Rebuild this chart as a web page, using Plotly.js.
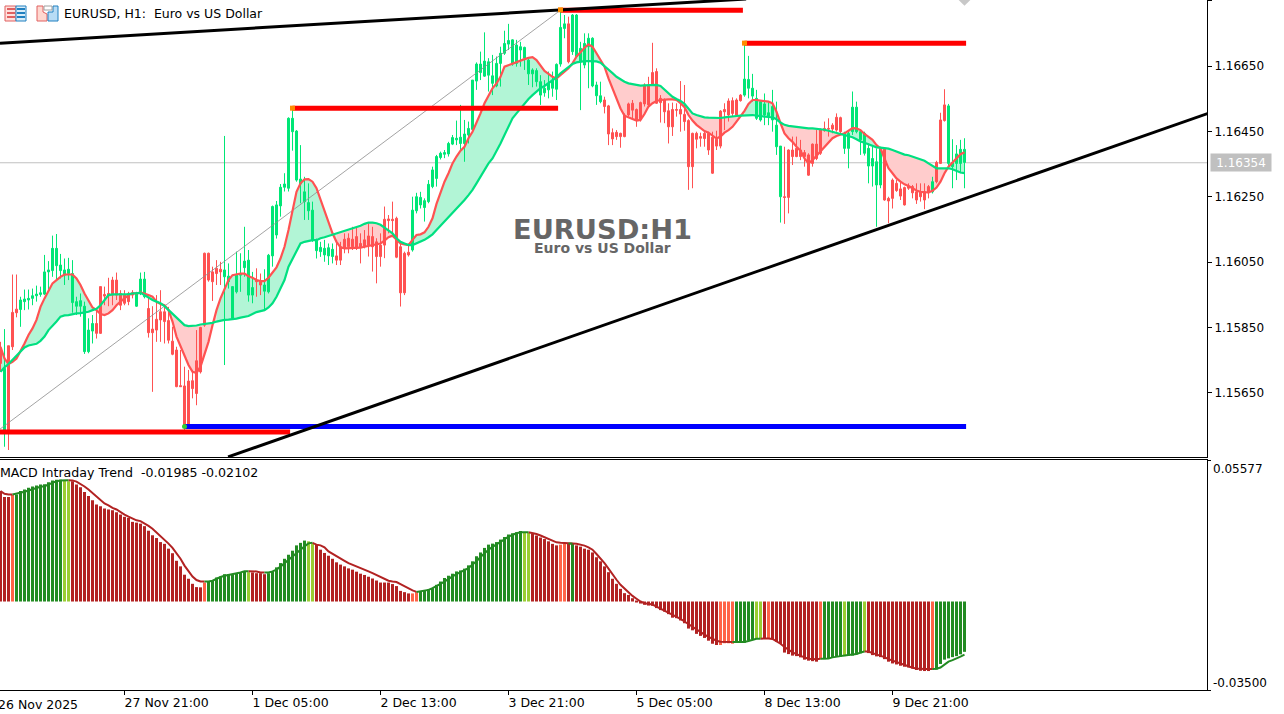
<!DOCTYPE html>
<html><head><meta charset="utf-8">
<script src="https://cdn.plot.ly/plotly-3.0.1.min.js"></script>
<style>html,body{margin:0;padding:0;background:#fff;overflow:hidden}#c{width:1284px;height:714px}</style>
</head><body><div id="c"></div>
<script>
// Prices are in points above 1.15000 (1 point = 0.00001)
const open=[781,536,794,896,906,905,929,934,939,947,951,952,1020,1024,1039,1024,1010,1015,926,915,915,776,776,839,862,975,951,954,995,995,954,949,954,956,915,954,944,908,845,875,898,898,871,808,781,672,671,686,687,748,850,1077,1077,1020,1031,1028,1005,990,878,959,1010,1033,949,949,995,990,961,959,1069,1133,1222,1279,1276,1449,1301,1289,1235,1207,1117,1085,1082,1072,1069,1067,1069,1097,1120,1123,1120,1128,1107,1118,1130,1128,1112,1102,1181,1182,1181,1184,1097,1077,1080,1087,1207,1225,1217,1235,1281,1306,1370,1380,1381,1411,1424,1413,1413,1439,1456,1604,1630,1619,1622,1597,1589,1658,1689,1717,1656,1658,1699,1674,1626,1626,1602,1561,1568,1577,1582,1579,1656,1765,1779,1694,1679,1663,1653,1709,1589,1559,1541,1546,1528,1446,1447,1444,1500,1534,1536,1517,1538,1592,1592,1630,1633,1551,1546,1513,1517,1517,1517,1502,1483,1444,1444,1434,1444,1444,1432,1426,1512,1517,1543,1544,1546,1561,1561,1582,1558,1490,1485,1500,1495,1485,1403,1250,1250,1393,1393,1398,1393,1385,1378,1411,1411,1456,1459,1459,1469,1493,1492,1398,1398,1449,1449,1424,1383,1344,1344,1286,1286,1396,1245,1301,1291,1274,1278,1283,1281,1265,1265,1265,1281,1265,1355,1485,1531,1352,1342,1352,1352,1355];
const high=[806,845,794,1012,1012,944,966,966,969,978,975,1072,1053,1131,1136,1075,1061,1063,1056,944,954,929,878,888,903,975,975,1002,1005,1018,964,964,959,964,959,1018,1020,944,915,949,964,913,913,852,791,781,730,720,720,842,852,1079,1079,1036,1056,1051,1436,1046,975,1082,1077,1158,1087,1020,1031,1015,1028,1075,1223,1237,1289,1322,1493,1515,1454,1408,1311,1291,1235,1122,1112,1118,1107,1107,1109,1112,1138,1138,1158,1158,1138,1148,1169,1158,1123,1138,1220,1194,1235,1189,1112,1082,1107,1250,1262,1265,1245,1301,1342,1378,1388,1393,1418,1439,1483,1531,1485,1480,1607,1661,1694,1753,1674,1684,1679,1709,1758,1779,1732,1730,1724,1709,1674,1643,1643,1622,1607,1633,1633,1658,1821,1806,1801,1809,1809,1724,1750,1750,1738,1602,1602,1556,1531,1459,1454,1446,1505,1538,1546,1520,1541,1597,1617,1721,1643,1561,1551,1536,1538,1536,1604,1592,1487,1446,1449,1446,1449,1449,1449,1452,1515,1536,1551,1554,1551,1564,1719,1681,1626,1577,1546,1566,1541,1577,1541,1405,1403,1395,1434,1434,1424,1393,1383,1413,1454,1459,1480,1490,1475,1505,1495,1449,1449,1572,1541,1454,1449,1413,1403,1398,1403,1398,1250,1306,1301,1296,1281,1291,1286,1291,1291,1291,1286,1311,1360,1507,1579,1534,1426,1408,1424,1429];
const low=[714,485,475,781,881,852,903,905,918,929,944,949,966,1005,995,1000,980,995,895,888,883,769,771,801,816,830,918,915,918,934,903,918,918,939,913,949,939,819,653,806,806,801,801,765,667,669,536,541,633,612,709,852,990,931,980,980,735,969,873,954,959,1005,929,924,944,949,903,954,1036,1122,1189,1266,1266,1391,1296,1230,1179,1179,1112,1061,1066,1051,1041,1046,1041,1041,1077,1077,1087,1087,1046,1092,1067,1021,985,1036,1062,1138,1128,1062,914,949,1067,1082,1199,1214,1174,1230,1276,1281,1364,1368,1373,1408,1408,1393,1357,1413,1452,1577,1607,1617,1572,1561,1585,1587,1684,1699,1651,1648,1648,1638,1592,1585,1587,1531,1556,1551,1556,1546,1648,1735,1658,1684,1674,1515,1643,1582,1585,1531,1536,1505,1408,1408,1424,1400,1432,1495,1485,1464,1480,1526,1526,1592,1534,1477,1475,1413,1436,1495,1449,1452,1271,1276,1398,1403,1403,1378,1320,1393,1398,1454,1480,1495,1495,1541,1556,1551,1541,1485,1480,1469,1469,1449,1378,1171,1167,1199,1347,1371,1362,1342,1314,1342,1362,1378,1449,1434,1444,1449,1444,1381,1337,1439,1444,1378,1376,1291,1281,1158,1276,1238,1169,1214,1265,1240,1223,1271,1245,1228,1235,1212,1245,1260,1291,1350,1480,1337,1276,1301,1322,1276];
const close=[740,725,536,791,895,934,937,939,947,952,956,1020,1026,1092,1092,1041,1026,1028,1015,929,932,915,842,862,832,832,946,947,949,949,918,924,929,949,954,998,998,834,834,842,873,868,811,768,669,669,546,546,663,648,714,857,995,990,1015,1020,1026,1007,975,1010,1015,1053,1056,972,990,980,980,1071,1220,1225,1279,1289,1490,1490,1451,1304,1265,1232,1209,1117,1095,1092,1094,1089,1056,1056,1092,1097,1097,1092,1097,1097,1102,1097,1067,1067,1102,1177,1177,1065,956,956,1072,1209,1250,1248,1238,1288,1332,1373,1383,1385,1413,1431,1429,1432,1442,1459,1607,1656,1656,1665,1663,1620,1658,1689,1719,1728,1730,1714,1709,1707,1668,1638,1636,1602,1582,1597,1607,1655,1768,1779,1663,1806,1806,1704,1719,1735,1735,1592,1559,1526,1442,1427,1434,1434,1434,1500,1515,1485,1487,1534,1531,1595,1536,1538,1510,1464,1464,1515,1503,1480,1342,1342,1426,1429,1428,1393,1322,1405,1405,1510,1500,1505,1500,1544,1610,1609,1582,1551,1541,1534,1507,1526,1469,1405,1248,1248,1373,1373,1373,1373,1316,1352,1367,1383,1452,1457,1457,1454,1449,1444,1444,1524,1524,1449,1444,1398,1367,1357,1398,1240,1237,1245,1269,1252,1225,1276,1262,1240,1250,1240,1262,1296,1296,1352,1483,1528,1355,1381,1395,1395];
const fastMA=[791,755,738,745,755,776,801,827,847,873,913,939,964,985,995,1005,1012,1013,1012,1000,980,954,934,911,903,891,888,893,903,918,929,939,949,954,954,957,954,949,944,929,922,918,903,868,822,791,760,735,714,711,730,765,806,857,903,939,970,995,1010,1013,1015,1015,1007,1002,995,992,992,1002,1020,1034,1061,1097,1148,1209,1265,1291,1303,1304,1296,1276,1240,1204,1169,1138,1112,1095,1092,1092,1092,1092,1094,1097,1099,1102,1104,1107,1116,1126,1131,1120,1107,1104,1102,1118,1133,1135,1141,1158,1184,1228,1265,1296,1322,1352,1373,1391,1403,1429,1449,1475,1505,1536,1561,1582,1597,1617,1648,1653,1658,1663,1668,1671,1675,1677,1668,1653,1635,1626,1617,1612,1622,1633,1643,1658,1679,1692,1706,1716,1709,1689,1670,1648,1612,1582,1551,1520,1498,1492,1488,1483,1485,1503,1526,1536,1543,1546,1548,1548,1548,1546,1536,1524,1500,1483,1470,1459,1451,1446,1436,1428,1434,1446,1454,1464,1480,1495,1513,1534,1546,1546,1544,1543,1541,1536,1510,1475,1444,1429,1418,1403,1391,1367,1352,1362,1375,1388,1403,1415,1429,1436,1441,1444,1452,1460,1459,1454,1442,1432,1424,1408,1398,1367,1337,1322,1306,1296,1288,1283,1276,1269,1265,1263,1263,1268,1278,1296,1322,1342,1355,1367,1380,1386];
const slowMA=[714,728,738,750,762,776,789,795,797,800,809,822,842,854,868,883,887,888,891,893,894,896,898,903,907,918,934,949,951,951,951,952,952,954,955,956,949,941,934,929,924,915,903,893,881,868,857,854,854,856,859,860,862,864,868,871,873,874,875,877,880,882,885,891,897,900,903,911,924,944,970,995,1036,1061,1087,1107,1112,1115,1117,1117,1123,1126,1130,1133,1136,1140,1144,1148,1153,1158,1161,1167,1171,1171,1169,1164,1156,1148,1138,1123,1112,1107,1102,1102,1107,1112,1118,1126,1135,1148,1161,1174,1187,1199,1211,1225,1240,1255,1271,1291,1311,1332,1352,1367,1388,1413,1439,1464,1490,1505,1520,1536,1549,1561,1572,1582,1589,1597,1607,1615,1628,1638,1648,1656,1661,1664,1665,1665,1665,1664,1660,1650,1638,1628,1617,1609,1602,1597,1594,1591,1590,1591,1592,1592,1592,1589,1577,1566,1556,1549,1543,1534,1520,1505,1500,1496,1493,1492,1491,1490,1491,1493,1495,1496,1497,1498,1499,1500,1500,1498,1496,1495,1494,1493,1487,1477,1470,1467,1465,1464,1462,1460,1459,1459,1458,1457,1455,1452,1449,1446,1442,1439,1436,1432,1426,1419,1415,1410,1405,1401,1400,1399,1397,1393,1388,1383,1379,1377,1373,1367,1364,1360,1352,1344,1337,1337,1337,1337,1334,1328,1324,1322];
// MACD pane values in units of 0.0001
const macdHist=[437,413,413,421,423,437,443,450,455,459,463,464,472,479,482,482,479,476,476,463,452,433,417,400,384,377,368,364,361,353,344,335,331,315,312,308,298,280,262,251,235,228,209,191,161,139,106,90,70,57,56,75,79,85,95,99,108,108,108,112,115,119,116,115,112,112,108,112,119,135,152,169,185,201,222,232,241,238,228,225,205,192,181,169,155,146,139,131,126,118,110,105,98,91,83,75,75,75,69,61,42,37,32,32,37,40,45,49,53,66,79,93,102,110,119,123,130,143,159,179,194,212,225,229,235,245,255,265,270,274,279,275,271,267,261,253,247,238,228,222,225,229,228,229,222,217,209,205,194,175,159,139,116,90,70,50,33,26,13,3,-8,-13,-16,-17,-26,-34,-40,-50,-64,-66,-75,-86,-107,-114,-128,-136,-144,-155,-167,-172,-172,-165,-165,-167,-163,-163,-163,-155,-149,-147,-146,-148,-148,-149,-159,-168,-202,-208,-214,-216,-221,-230,-234,-236,-238,-228,-228,-225,-222,-218,-218,-216,-214,-214,-209,-205,-198,-204,-212,-217,-220,-228,-238,-245,-249,-254,-258,-261,-265,-271,-274,-275,-275,-271,-269,-247,-230,-225,-220,-216,-209,-199];
const macdSignal=[437,426,423,423,426,429,434,439,445,450,454,456,463,471,476,479,480,480,479,474,466,455,443,429,413,400,388,380,370,364,353,344,336,329,321,318,310,299,288,274,258,243,229,212,192,169,142,119,99,85,79,79,79,82,91,97,102,105,107,111,115,120,120,119,119,115,115,115,119,126,138,152,165,179,192,205,218,230,232,225,222,214,198,188,179,168,161,152,146,139,132,126,119,112,105,97,89,82,79,77,69,60,50,44,38,40,42,46,53,60,70,79,90,99,108,116,123,132,146,159,176,191,205,216,225,235,246,257,265,270,274,275,274,271,267,261,254,247,238,234,232,230,229,229,228,225,221,214,205,188,172,152,130,106,86,66,50,36,22,11,0,-7,-11,-12,-20,-28,-34,-44,-53,-61,-69,-79,-90,-101,-111,-122,-131,-140,-148,-155,-159,-160,-160,-160,-160,-160,-160,-156,-152,-147,-147,-146,-146,-148,-156,-167,-180,-192,-201,-208,-216,-221,-226,-228,-228,-226,-226,-225,-221,-217,-216,-214,-212,-210,-208,-202,-198,-198,-204,-209,-213,-220,-228,-234,-241,-247,-253,-258,-262,-265,-267,-267,-267,-267,-266,-261,-249,-238,-232,-226,-218,-210];
const macdStates=[['R',3],['T',1],['G',12],['Y',2],['R',33],['T',1],['G',10],['Y',1],['R',4],['G',10],['Y',2],['R',24],['T',2],['G',26],['Y',2],['R',7],['T',2],['R',1],['G',1],['R',36],['T',4],['G',5],['Y',2],['R',1],['T',1],['R',12],['T',1],['G',5],['Y',1],['G',4],['Y',1],['R',16],['T',1],['G',8]];
const priceTicks=[1.1565,1.1585,1.1605,1.1625,1.1645,1.1665,1.1685];
const priceTickText=['1.15650','1.15850','1.16050','1.16250','1.16450','1.16650','1.16850'];
const macdTicks=[0.05577,-0.035];
const timeTicks=[31,63,95,127,159,191,223];
const timeTickText=['27 Nov 21:00','1 Dec 05:00','2 Dec 13:00','3 Dec 21:00','5 Dec 05:00','8 Dec 13:00','9 Dec 21:00'];
const firstTimeLabel='26 Nov 2025';
const lastPrice=1.16354;
// Drawn objects: [start bar, start points, end bar, end points]
const upperTrend=[-0.125,1720,186.4,1855];
const lowerTrend=[56.9,454,301.875,1505];
const zigzag=[-0.125,539,140,1821];
const redLevels=[[-0.125,72.4,530],[73,139.4,1521],[140,185.6,1821],[186,241.4,1720]];
const blueLevel=[46,241.4,547];
const pivotMarks=[[73,1521,'#FF8C00','square'],[186,1720,'#FF8C00','square'],[140,1822,'#FF8C00','square'],[46,547,'#32CD32','circle']];

const FONT='"DejaVu Sans"';
const PW=1207,PH=690;
const pr=a=>a.map(v=>1.15+v/1e5);
const one=v=>1.15+v/1e5;
const bars=open.map((_,i)=>i);
const macdCode={R:'#B22222',T:'#FF6347',G:'#228B22',Y:'#9ACD32'};
const states=[];macdStates.forEach(([s,n])=>{for(let k=0;k<n;k++)states.push(s)});
const isUp=i=>states[i]==='G'||states[i]==='Y';
const traces=[];
traces.push({type:'candlestick',x:bars,open:pr(open),high:pr(high),low:pr(low),close:pr(close),whiskerwidth:0,
  increasing:{line:{color:'#00E676',width:1},fillcolor:'#00E676'},
  decreasing:{line:{color:'#FF5252',width:1},fillcolor:'#FF5252'},hoverinfo:'skip',xaxis:'x',yaxis:'y'});
const seg=(a,color,width)=>({type:'scatter',mode:'lines',x:[a[0],a[2]],y:[one(a[1]),one(a[3])],line:{color,width},hoverinfo:'skip',xaxis:'x',yaxis:'y'});
traces.push(seg(zigzag,'#8C8C8C',0.8));
traces.push({type:'scatter',mode:'lines',x:bars,y:pr(fastMA),line:{color:'#FF5252',width:2.2},hoverinfo:'skip',xaxis:'x',yaxis:'y'});
traces.push({type:'scatter',mode:'lines',x:bars,y:pr(slowMA),line:{color:'#00E081',width:2.2},hoverinfo:'skip',xaxis:'x',yaxis:'y'});
redLevels.forEach(l=>traces.push(seg([l[0],l[2],l[1],l[2]],'#FF0000',5)));
traces.push(seg([blueLevel[0],blueLevel[2],blueLevel[1],blueLevel[2]],'#0000FF',5));
traces.push(seg(upperTrend,'#000000',3));
traces.push(seg(lowerTrend,'#000000',3));
pivotMarks.forEach(p=>traces.push({type:'scatter',mode:'markers',x:[p[0]],y:[one(p[1])],marker:{color:p[2],symbol:p[3],size:5},hoverinfo:'skip',xaxis:'x',yaxis:'y'}));
traces.push({type:'scatter',mode:'markers',x:[241],y:[one(1852)],marker:{color:'#C8C8C8',symbol:'diamond',size:9},hoverinfo:'skip',xaxis:'x',yaxis:'y'});
// MACD pane
traces.push({type:'bar',x:bars,y:macdHist.map(v=>v/1e4),width:0.75,marker:{color:states.map(s=>macdCode[s]),line:{width:0}},hoverinfo:'skip',xaxis:'x',yaxis:'y2'});
const part=(test)=>macdSignal.map((v,i)=>(test(i)||(i+1<states.length&&test(i+1)))?v/1e4:null);
traces.push({type:'scatter',mode:'lines',x:bars,y:part(i=>!isUp(i)),line:{color:'#B22222',width:2},hoverinfo:'skip',xaxis:'x',yaxis:'y2'});
traces.push({type:'scatter',mode:'lines',x:bars,y:part(isUp),line:{color:'#228B22',width:2},hoverinfo:'skip',xaxis:'x',yaxis:'y2'});

// band between the two averages: one filled area per run, under the candles
const bandShapes=[];
for(let s=0;s<bars.length;){
  const up=fastMA[s]>=slowMA[s];let e=s;
  while(e+1<bars.length&&(fastMA[e+1]>=slowMA[e+1])===up)e++;
  const end=Math.min(e+1,bars.length-1);
  const top=[],bot=[];
  for(let i=s;i<=end;i++){top.push(`${i} ${one(fastMA[i])}`);bot.unshift(`${i} ${one(slowMA[i])}`);}
  bandShapes.push({type:'path',xref:'x',yref:'y',layer:'below',path:'M '+top.concat(bot).join(' L ')+' Z',line:{width:0},fillcolor:up?'#B2F5D6':'#FFCCCC'});
  s=e+1;
}
const px=x=>x/PW, py=y=>1-y/PH;
const line=(x0,y0,x1,y1,c,w)=>({type:'line',xref:'paper',yref:'paper',x0:px(x0),y0:py(y0),x1:px(x1),y1:py(y1),line:{color:c,width:w}});
const rect=(x0,y0,x1,y1,c,f)=>({type:'rect',xref:'paper',yref:'paper',x0:px(x0),y0:py(y0),x1:px(x1),y1:py(y1),line:{color:c,width:1},fillcolor:f});
const shapes=[
  {type:'line',xref:'paper',yref:'y',x0:0,x1:1,y0:lastPrice,y1:lastPrice,line:{color:'#C0C0C0',width:1},layer:'below'},
  ...bandShapes,
  line(0,457.5,PW+1,457.5,'#000',1),line(0,459.5,PW+1,459.5,'#000',1),line(PW+0.5,459.5,PW+0.5,461,'#000',1),
  rect(5,6,16,21,'#E06060','#FFE0DC'),rect(16,6,26,21,'#2080C0','#D8ECF8'),
  line(7,9,15,9,'#E06060',2),line(7,13,15,13,'#E06060',2),line(7,17,15,17,'#E06060',2),
  line(17,9,25,9,'#2080C0',2),line(17,13,25,13,'#2080C0',2),line(17,17,25,17,'#2080C0',2),
  {type:'path',xref:'paper',yref:'paper',path:`M ${px(37)} ${py(6)} L ${px(43)} ${py(6)} L ${px(43)} ${py(12)} L ${px(47)} ${py(14)} L ${px(47)} ${py(21)} L ${px(37)} ${py(21)} Z`,line:{color:'#E06060',width:1},fillcolor:'#FFD8D0'},
  {type:'path',xref:'paper',yref:'paper',path:`M ${px(48)} ${py(12)} L ${px(53)} ${py(12)} L ${px(53)} ${py(6)} L ${px(58)} ${py(6)} L ${px(58)} ${py(21)} L ${px(48)} ${py(21)} Z`,line:{color:'#2080C0',width:1},fillcolor:'#B8DCF5'},
  rect(44,6,52,10,'#A0A0A0','#FFFFFF')
];
const note=(text,x,y,o)=>Object.assign({text,xref:'paper',yref:'paper',x:px(x),y:py(y),xanchor:'left',yanchor:'middle',showarrow:false,font:{family:FONT,size:12.5,color:'#000'}},o||{});
const annotations=[
  note('EURUSD, H1:  Euro vs US Dollar',62,14),
  note('MACD Intraday Trend  -0.01985 -0.02102',-2,472,{font:{family:FONT,size:12.6,color:'#000'}}),
  note(firstTimeLabel,-4,704),
  note('EURUSD:H1',602,229,{xanchor:'center',height:23,valign:'middle',font:{family:'"DejaVu Sans"',size:27.3,color:'#666666',weight:700}}),
  note('Euro vs US Dollar',602,248,{xanchor:'center',height:12,valign:'middle',font:{family:'"DejaVu Sans"',size:14,color:'#666666',weight:700}}),
  {text:lastPrice.toFixed(5),xref:'paper',yref:'y',x:px(1210),y:lastPrice,xanchor:'left',yanchor:'middle',width:58,height:15,align:'center',valign:'middle',showarrow:false,bgcolor:'#C0C0C0',borderpad:1,font:{family:FONT,size:12,color:'#FFFFFF'}},
  {text:'0.05577',xref:'paper',yref:'y2',x:px(1211),y:macdTicks[0],yshift:-8,xanchor:'left',yanchor:'middle',showarrow:false,font:{family:FONT,size:12,color:'#000'}},
  {text:'-0.03500',xref:'paper',yref:'y2',x:px(1211),y:macdTicks[1],yshift:7,xanchor:'left',yanchor:'middle',showarrow:false,font:{family:FONT,size:12,color:'#000'}}
];
const layout={width:1284,height:714,margin:{l:0,r:77,t:0,b:24},paper_bgcolor:'#fff',plot_bgcolor:'#fff',showlegend:false,barmode:'overlay',boxgap:0.5,boxgroupgap:0,
  font:{family:FONT,size:12,color:'#000'},
  xaxis:{range:[-0.125,301.625],anchor:'y2',showgrid:false,zeroline:false,showline:true,linecolor:'#000',linewidth:1,ticks:'outside',ticklen:4,tickcolor:'#000',tickvals:timeTicks,ticktext:timeTickText,ticklabelposition:'outside right',ticklabelstandoff:1,ticklabelshift:-1,tickfont:{family:FONT,size:12.5,color:'#000'},rangeslider:{visible:false},fixedrange:true},
  yaxis:{domain:[1-457/PH,1],range:[1.15+453.6/1e5,1.15+1852/1e5],side:'right',anchor:'x',showgrid:false,zeroline:false,showline:true,linecolor:'#000',linewidth:1,ticks:'outside',ticklen:4,tickcolor:'#000',tickvals:priceTicks,ticktext:priceTickText,tickfont:{family:FONT,size:12,color:'#000'},fixedrange:true},
  yaxis2:{domain:[0,229.5/PH],range:[-0.035,0.05577],side:'right',anchor:'x',showgrid:false,zeroline:false,showline:true,linecolor:'#000',linewidth:1,ticks:'outside',ticklen:3,tickcolor:'#000',tickvals:macdTicks,showticklabels:false,fixedrange:true},
  shapes,annotations};
Plotly.newPlot('c',traces,layout,{displayModeBar:false});
</script></body></html>
